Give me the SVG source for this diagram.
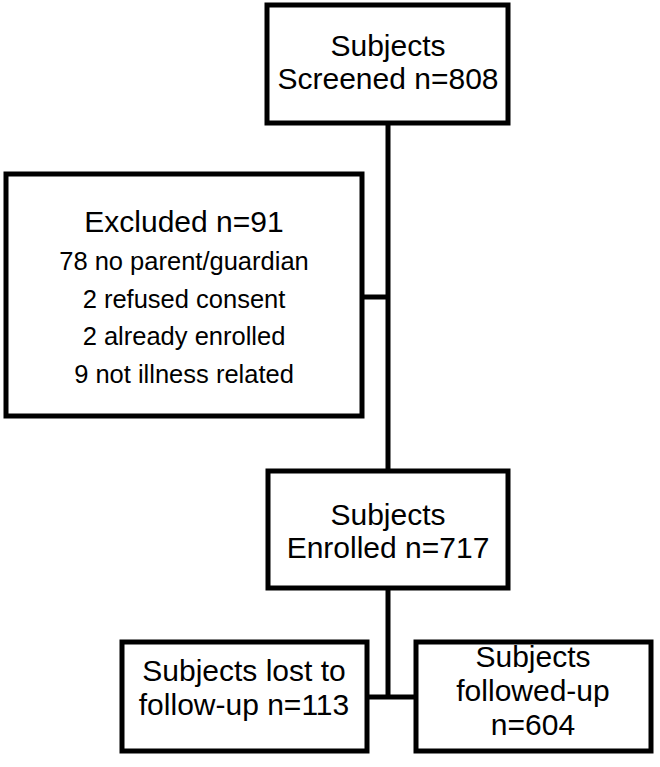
<svg xmlns="http://www.w3.org/2000/svg" width="660" height="767" viewBox="0 0 660 767">
<style>
.box{fill:#fff;stroke:#000;stroke-width:5}
.ln{fill:none;stroke:#000;stroke-width:5}
text{font-family:"Liberation Sans",Arial,sans-serif;fill:#000;text-anchor:middle}
.t{font-size:30px}
.s{font-size:25.5px}
</style>
<rect width="660" height="767" fill="#fff"/>
<g id="connectors">
<line class="ln" x1="388" y1="124" x2="388" y2="470"/>
<line class="ln" x1="363" y1="297" x2="388" y2="297"/>
<line class="ln" x1="388" y1="589" x2="388" y2="697"/>
<line class="ln" x1="368" y1="697" x2="415" y2="697"/>
</g>
<g id="screened">
<rect class="box" x="267" y="5" width="241" height="118"/>
<text class="t" x="388" y="56">Subjects</text>
<text class="t" x="388" y="89">Screened n=808</text>
</g>
<g id="excluded">
<rect class="box" x="6" y="174" width="356" height="242"/>
<text class="t" x="184" y="232">Excluded n=91</text>
<text class="s" x="184" y="270">78 no parent/guardian</text>
<text class="s" x="184" y="308">2 refused consent</text>
<text class="s" x="184" y="345">2 already enrolled</text>
<text class="s" x="184" y="383">9 not illness related</text>
</g>
<g id="enrolled">
<rect class="box" x="268" y="471" width="240" height="117"/>
<text class="t" x="388" y="525">Subjects</text>
<text class="t" x="388" y="558">Enrolled n=717</text>
</g>
<g id="lost">
<rect class="box" x="122" y="642" width="245" height="109"/>
<text class="t" x="244" y="681">Subjects lost to</text>
<text class="t" x="244" y="715">follow-up n=113</text>
</g>
<g id="followed">
<rect class="box" x="416" y="642" width="235" height="109"/>
<text class="t" x="533" y="667">Subjects</text>
<text class="t" x="533" y="701">followed-up</text>
<text class="t" x="533" y="735">n=604</text>
</g>
</svg>
